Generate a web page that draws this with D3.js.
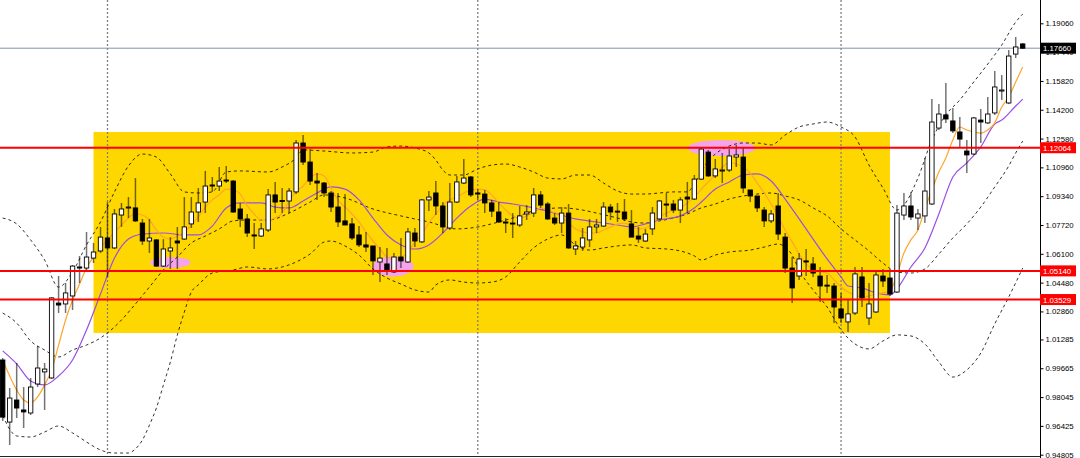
<!DOCTYPE html>
<html><head><meta charset="utf-8">
<script src="https://cdn.jsdelivr.net/npm/d3@7"></script>
<style>html,body{margin:0;padding:0;background:#fff;overflow:hidden}svg{display:block}</style>
</head><body>
<svg id="chart" width="1080" height="458"></svg>
<script>
// ---------- data ----------
const opens=[1.0013,0.9664,0.9788,0.9732,0.9715,0.9878,0.9946,0.9912,1.0333,1.0328,1.0373,1.0536,1.0530,1.0586,1.0626,1.0699,1.0643,1.0828,1.0868,1.0868,1.0783,1.0682,1.0688,1.0541,1.0626,1.0682,1.0693,1.0778,1.0845,1.0901,1.0997,1.0991,1.1025,1.1019,1.0862,1.0806,1.0716,1.0710,1.0744,1.0941,1.0910,1.0907,1.0958,1.1233,1.1126,1.1019,1.1008,1.0952,1.0873,1.0795,1.0778,1.0716,1.0660,1.0654,1.0564,1.0553,1.0508,1.0592,1.0564,1.0727,1.0677,1.0913,1.0952,1.0879,1.0755,1.0901,1.1008,1.1042,1.0952,1.0946,1.0896,1.0845,1.0789,1.0783,1.0772,1.0834,1.0839,1.0941,1.0890,1.0811,1.0783,1.0839,1.0637,1.0648,1.0688,1.0761,1.0766,1.0873,1.0850,1.0845,1.0778,1.0710,1.0682,1.0750,1.0806,1.0890,1.0890,1.0856,1.0929,1.0918,1.1030,1.1182,1.1048,1.1076,1.1081,1.1154,1.1154,1.0969,1.0935,1.0856,1.0795,1.0879,1.0704,1.0530,1.0485,1.0570,1.0553,1.0485,1.0434,1.0429,1.0300,1.0227,1.0277,1.0480,1.0249,1.0283,1.0485,1.0474,1.0395,1.0828,1.0879,1.0811,1.0823,1.0890,1.1317,1.1391,1.1357,1.1295,1.1188,1.1171,1.1362,1.1346,1.1402,1.1525,1.1458,1.1733,1.1790];
const highs=[1.0024,0.9855,0.9996,0.9861,0.9912,1.0092,0.9996,1.0367,1.0485,1.0446,1.0547,1.0598,1.0733,1.0671,1.0761,1.0901,1.0862,1.0896,1.0929,1.1036,1.0806,1.0806,1.0693,1.0693,1.0704,1.0761,1.0929,1.0929,1.0980,1.1076,1.1042,1.1098,1.1104,1.1025,1.0896,1.0834,1.0783,1.0783,1.0974,1.1014,1.0980,1.0980,1.1250,1.1278,1.1199,1.1064,1.1014,1.0963,1.0952,1.0946,1.0811,1.0766,1.0733,1.0654,1.0648,1.0643,1.0615,1.0699,1.0755,1.0755,1.0918,1.0963,1.1019,1.0901,1.1008,1.1048,1.1143,1.1048,1.0974,1.0969,1.0913,1.0901,1.0811,1.0839,1.0879,1.0884,1.0980,1.0963,1.0901,1.0839,1.0873,1.0890,1.0682,1.0755,1.0806,1.0806,1.0901,1.0890,1.0896,1.0918,1.0856,1.0761,1.0750,1.0873,1.0913,1.0952,1.0913,1.0929,1.1014,1.1053,1.1205,1.1194,1.1143,1.1177,1.1199,1.1222,1.1211,1.0969,1.0935,1.0873,1.0856,1.0952,1.0727,1.0592,1.0615,1.0637,1.0592,1.0536,1.0491,1.0446,1.0390,1.0350,1.0536,1.0536,1.0446,1.0519,1.0525,1.0525,1.0884,1.0952,1.0958,1.0862,1.1149,1.1480,1.1452,1.1570,1.1430,1.1379,1.1250,1.1379,1.1424,1.1492,1.1638,1.1615,1.1756,1.1829,1.1795];
const lows=[0.9670,0.9535,0.9687,0.9631,0.9704,0.9861,0.9732,0.9906,1.0277,1.0277,1.0294,1.0446,1.0508,1.0558,1.0615,1.0480,1.0637,1.0761,1.0811,1.0789,1.0660,1.0615,1.0536,1.0536,1.0525,1.0525,1.0688,1.0755,1.0789,1.0839,1.0958,1.0963,1.1008,1.0839,1.0761,1.0704,1.0637,1.0704,1.0733,1.0839,1.0839,1.0839,1.0946,1.1109,1.0997,1.0913,1.0929,1.0845,1.0761,1.0772,1.0688,1.0648,1.0620,1.0491,1.0452,1.0491,1.0502,1.0530,1.0558,1.0648,1.0671,1.0850,1.0828,1.0727,1.0744,1.0896,1.1003,1.0929,1.0913,1.0839,1.0817,1.0783,1.0727,1.0699,1.0761,1.0800,1.0817,1.0868,1.0800,1.0772,1.0727,1.0637,1.0603,1.0626,1.0648,1.0727,1.0761,1.0800,1.0789,1.0795,1.0704,1.0671,1.0677,1.0716,1.0800,1.0817,1.0839,1.0783,1.0839,1.0913,1.1025,1.1042,1.1036,1.1008,1.1070,1.1098,1.0952,1.0901,1.0845,1.0761,1.0783,1.0688,1.0502,1.0333,1.0463,1.0485,1.0480,1.0339,1.0390,1.0221,1.0221,1.0170,1.0266,1.0311,1.0210,1.0277,1.0423,1.0373,1.0390,1.0800,1.0800,1.0744,1.0783,1.0884,1.1306,1.1346,1.1289,1.1205,1.1064,1.1166,1.1233,1.1340,1.1391,1.1475,1.1452,1.1711,1.1762];
const closes=[0.9692,0.9799,0.9743,0.9721,0.9861,0.9968,0.9962,1.0362,1.0322,1.0390,1.0541,1.0530,1.0592,1.0620,1.0704,1.0643,1.0834,1.0862,1.0873,1.0795,1.0682,1.0699,1.0541,1.0637,1.0643,1.0671,1.0761,1.0845,1.0896,1.0991,1.0991,1.1019,1.1019,1.0845,1.0806,1.0727,1.0710,1.0750,1.0941,1.0901,1.0904,1.0963,1.1233,1.1126,1.1019,1.1008,1.0952,1.0873,1.0789,1.0772,1.0699,1.0660,1.0648,1.0570,1.0586,1.0519,1.0592,1.0570,1.0733,1.0682,1.0913,1.0929,1.0879,1.0761,1.0901,1.1014,1.1036,1.0941,1.0946,1.0896,1.0850,1.0789,1.0783,1.0778,1.0823,1.0845,1.0941,1.0884,1.0806,1.0783,1.0839,1.0643,1.0654,1.0699,1.0761,1.0772,1.0873,1.0845,1.0845,1.0806,1.0704,1.0693,1.0721,1.0839,1.0907,1.0884,1.0856,1.0913,1.0918,1.1030,1.1199,1.1048,1.1087,1.1081,1.1160,1.1166,1.0980,1.0935,1.0868,1.0795,1.0834,1.0721,1.0530,1.0418,1.0581,1.0564,1.0502,1.0429,1.0429,1.0311,1.0249,1.0272,1.0497,1.0362,1.0328,1.0491,1.0457,1.0384,1.0839,1.0879,1.0817,1.0834,1.0963,1.1351,1.1396,1.1368,1.1301,1.1255,1.1166,1.1374,1.1351,1.1396,1.1548,1.1531,1.1722,1.1773,1.1766];

// Bollinger bands: [bar index, price]
const upperBand=[[0,1.0811],[2,1.0778],[4,1.0688],[6,1.0575],[8,1.0423],[10,1.0508],[12,1.0660],[14,1.0789],[16,1.0958],[18,1.1104],[20,1.1171],[22,1.1154],[24,1.1059],[26,1.0958],[28,1.0952],[30,1.0958],[32,1.1070],[34,1.1076],[38,1.1070],[40,1.1098],[42,1.1149],[43,1.1194],[46,1.1188],[50,1.1177],[53,1.1182],[55,1.1211],[57,1.1216],[59,1.1205],[61,1.1177],[62,1.1137],[63,1.1081],[64,1.1053],[66,1.1053],[68,1.1087],[70,1.1109],[72,1.1115],[74,1.1098],[76,1.1070],[78,1.1036],[80,1.1031],[82,1.1053],[84,1.1053],[86,1.1008],[88,1.0963],[90,1.0946],[92,1.0946],[94,1.0952],[96,1.0958],[98,1.0958],[99,1.1003],[100,1.1070],[101,1.1132],[102,1.1171],[104,1.1216],[106,1.1233],[108,1.1233],[110,1.1222],[112,1.1278],[114,1.1323],[116,1.1340],[118,1.1351],[120,1.1323],[122,1.1267],[124,1.1109],[126,1.0980],[128,1.0856],[129,1.0884],[131,1.1036],[133,1.1250],[135,1.1391],[137,1.1475],[139,1.1576],[141,1.1677],[143,1.1784],[145,1.1913],[146,1.1958]];
const middleBand=[[0,1.0277],[2,1.0221],[4,1.0120],[6,1.0069],[8,1.0030],[10,1.0069],[12,1.0097],[14,1.0137],[15,1.0165],[17,1.0238],[19,1.0328],[21,1.0423],[23,1.0519],[25,1.0592],[27,1.0671],[29,1.0710],[31,1.0750],[33,1.0795],[35,1.0800],[38,1.0800],[41,1.0839],[44,1.0901],[46,1.0941],[49,1.0924],[53,1.0862],[57,1.0823],[61,1.0789],[65,1.0750],[68,1.0761],[71,1.0789],[73,1.0811],[76,1.0851],[80,1.0868],[83,1.0856],[85,1.0839],[88,1.0811],[90,1.0789],[92,1.0783],[94,1.0795],[96,1.0811],[98,1.0834],[100,1.0868],[102,1.0890],[104,1.0918],[106,1.0935],[108,1.0946],[110,1.0952],[112,1.0935],[114,1.0913],[116,1.0868],[118,1.0823],[120,1.0750],[122,1.0688],[124,1.0626],[126,1.0558],[128,1.0508],[130,1.0502],[132,1.0525],[134,1.0609],[136,1.0699],[138,1.0778],[140,1.0873],[142,1.0986],[144,1.1104],[145,1.1177],[146,1.1244]];
const lowerBand=[[0,0.9700],[2,0.9586],[4,0.9580],[6,0.9608],[8,0.9642],[10,0.9603],[12,0.9552],[14,0.9507],[16,0.9490],[18,0.9490],[19,0.9513],[20,0.9563],[21,0.9647],[22,0.9743],[23,0.9872],[24,1.0002],[25,1.0154],[26,1.0283],[27,1.0395],[28,1.0435],[30,1.0502],[33,1.0519],[35,1.0536],[38,1.0525],[40,1.0536],[42,1.0564],[44,1.0609],[46,1.0676],[47,1.0682],[49,1.0654],[51,1.0603],[53,1.0525],[55,1.0474],[57,1.0440],[59,1.0407],[61,1.0395],[62,1.0435],[64,1.0463],[66,1.0451],[68,1.0446],[70,1.0451],[72,1.0480],[74,1.0564],[76,1.0643],[78,1.0693],[80,1.0716],[82,1.0660],[84,1.0631],[86,1.0643],[88,1.0654],[90,1.0660],[92,1.0643],[95,1.0637],[97,1.0626],[99,1.0598],[100,1.0575],[102,1.0603],[104,1.0620],[107,1.0631],[109,1.0648],[111,1.0665],[112,1.0648],[113,1.0603],[114,1.0519],[116,1.0407],[118,1.0311],[120,1.0182],[122,1.0103],[124,1.0075],[126,1.0120],[128,1.0154],[130,1.0148],[132,1.0103],[134,1.0002],[136,0.9917],[138,0.9957],[140,1.0052],[142,1.0216],[144,1.0367],[146,1.0530]];

// Moving averages: [bar index, price]
const fastMA=[[0,1.0013],[1,0.9923],[2,0.9844],[3,0.9788],[4,0.9771],[5,0.9805],[6,0.9873],[7,0.9957],[8,1.0097],[9,1.0238],[10,1.0350],[11,1.0440],[12,1.0530],[13,1.0592],[14,1.0643],[15,1.0688],[17,1.0772],[19,1.0834],[20,1.0828],[21,1.0800],[22,1.0744],[23,1.0704],[24,1.0693],[25,1.0710],[26,1.0733],[27,1.0772],[28,1.0817],[29,1.0873],[30,1.0913],[31,1.0941],[32,1.0974],[33,1.0969],[34,1.0946],[35,1.0879],[36,1.0834],[37,1.0800],[38,1.0800],[39,1.0811],[40,1.0839],[41,1.0907],[42,1.0958],[43,1.0991],[44,1.1036],[45,1.1059],[46,1.1048],[47,1.0980],[48,1.0913],[49,1.0873],[50,1.0834],[51,1.0789],[52,1.0733],[53,1.0682],[54,1.0637],[55,1.0592],[56,1.0581],[57,1.0592],[58,1.0615],[59,1.0677],[60,1.0721],[61,1.0783],[62,1.0834],[63,1.0884],[64,1.0913],[65,1.0929],[66,1.0952],[67,1.0969],[68,1.0974],[69,1.0969],[70,1.0941],[71,1.0896],[72,1.0856],[73,1.0823],[74,1.0811],[75,1.0823],[76,1.0845],[77,1.0868],[78,1.0856],[79,1.0839],[80,1.0817],[81,1.0783],[82,1.0750],[83,1.0733],[84,1.0727],[85,1.0727],[86,1.0744],[87,1.0761],[88,1.0778],[89,1.0783],[90,1.0766],[91,1.0750],[92,1.0755],[93,1.0783],[94,1.0817],[95,1.0839],[96,1.0856],[97,1.0868],[98,1.0896],[99,1.0929],[100,1.0974],[101,1.1014],[102,1.1053],[103,1.1098],[104,1.1121],[105,1.1115],[106,1.1098],[107,1.1064],[108,1.1008],[109,1.0952],[110,1.0890],[111,1.0823],[112,1.0744],[113,1.0677],[114,1.0609],[115,1.0553],[116,1.0519],[117,1.0508],[118,1.0502],[119,1.0463],[120,1.0423],[121,1.0395],[122,1.0379],[123,1.0367],[124,1.0373],[125,1.0384],[126,1.0390],[127,1.0401],[128,1.0491],[129,1.0615],[130,1.0688],[131,1.0744],[132,1.0862],[133,1.0969],[134,1.1070],[135,1.1149],[136,1.1250],[137,1.1323],[138,1.1306],[139,1.1295],[140,1.1289],[141,1.1306],[142,1.1346],[143,1.1435],[144,1.1492],[145,1.1576],[146,1.1660]];
const slowMA=[[0,1.0064],[2,0.9991],[4,0.9895],[6,0.9873],[8,0.9923],[10,1.0013],[12,1.0182],[14,1.0384],[16,1.0586],[18,1.0693],[20,1.0721],[23,1.0727],[26,1.0716],[28,1.0716],[30,1.0766],[32,1.0868],[34,1.0896],[37,1.0896],[39,1.0873],[41,1.0868],[43,1.0907],[45,1.0952],[47,1.0986],[49,1.0974],[51,1.0913],[53,1.0811],[55,1.0716],[57,1.0660],[59,1.0637],[61,1.0660],[63,1.0727],[65,1.0811],[67,1.0879],[69,1.0918],[71,1.0901],[73,1.0890],[76,1.0868],[79,1.0839],[82,1.0806],[85,1.0789],[88,1.0772],[90,1.0761],[92,1.0778],[94,1.0800],[97,1.0823],[99,1.0868],[100,1.0901],[102,1.0974],[104,1.1014],[106,1.1053],[108,1.1059],[110,1.1019],[112,1.0918],[114,1.0806],[116,1.0693],[118,1.0581],[120,1.0480],[121,1.0429],[123,1.0418],[125,1.0390],[127,1.0379],[128,1.0412],[130,1.0536],[132,1.0643],[134,1.0834],[136,1.1042],[138,1.1121],[140,1.1211],[142,1.1340],[143,1.1362],[145,1.1441],[146,1.1480]];

const yTickValues=[1.19060,1.17440,1.15820,1.14200,1.12580,1.10960,1.09340,1.07720,1.06100,1.04480,1.02860,1.01285,0.99665,0.98045,0.96425,0.94805];
const levelPrices=[1.12064,1.05140,1.03529];
const lastPrice=1.17660;
const periodSeparators=[15,68,120];
const zoneBars=[13,127];
const zonePrices=[1.1295,1.0165];
// highlight ellipses: centre bar, centre price, half-width in bars, half-height in price
const ellipseBars=[24,55.9,102.9];
const ellipsePrices=[1.0561,1.0539,1.1205];
const ellipseHalfBars=[2.9,2.9,4.9];
const ellipseHalfPrices=[0.0031,0.0056,0.0045];

// ---------- drawing ----------
const W=1080,H=458,plotRight=1040,plotBottom=456.5;
const svg=d3.select('#chart');
const x=d3.scaleLinear().domain([0,146]).range([2.7,1022.7]);
const y=d3.scaleLinear().domain([0.94805,1.19060]).range([454.7,23.3]);

svg.append('defs').append('clipPath').attr('id','plot')
  .append('rect').attr('x',0).attr('y',0).attr('width',plotRight).attr('height',plotBottom);
const g=svg.append('g').attr('clip-path','url(#plot)');

// zone rectangle
g.append('rect')
  .attr('x',x(zoneBars[0])).attr('y',y(zonePrices[0]))
  .attr('width',x(zoneBars[1])-x(zoneBars[0]))
  .attr('height',y(zonePrices[1])-y(zonePrices[0]))
  .attr('fill','#FFD700');

// ellipses
g.selectAll('ellipse.mark').data(ellipseBars).join('ellipse')
  .attr('cx',d=>x(d)).attr('cy',(d,i)=>y(ellipsePrices[i]))
  .attr('rx',(d,i)=>x(d+ellipseHalfBars[i])-x(d))
  .attr('ry',(d,i)=>y(ellipsePrices[i]-ellipseHalfPrices[i])-y(ellipsePrices[i]))
  .attr('fill','#F5A3EA');

// period separators
g.selectAll('line.sep').data(periodSeparators).join('line')
  .attr('x1',d=>x(d)).attr('x2',d=>x(d)).attr('y1',0).attr('y2',plotBottom)
  .attr('stroke','#808080').attr('stroke-width',1.3).attr('stroke-dasharray','2,2');

// last price line
g.append('line').attr('x1',0).attr('x2',plotRight)
  .attr('y1',y(lastPrice)).attr('y2',y(lastPrice))
  .attr('stroke','#8292AA').attr('stroke-width',1);

// bands
const line=d3.line().x(d=>x(d[0])).y(d=>y(d[1])).curve(d3.curveMonotoneX);
[upperBand,middleBand,lowerBand].forEach(b=>{
  g.append('path').attr('d',line(b)).attr('fill','none')
   .attr('stroke','#000').attr('stroke-opacity',0.8).attr('stroke-width',1)
   .attr('stroke-dasharray','3,3');
});
g.append('path').attr('d',line(slowMA)).attr('fill','none')
  .attr('stroke','#9A4FE3').attr('stroke-width',1.2);
g.append('path').attr('d',line(fastMA)).attr('fill','none')
  .attr('stroke','#FFA52C').attr('stroke-width',1.2);

// candles
const bars=opens.map((o,i)=>({i,o,h:highs[i],l:lows[i],c:closes[i]}));
const bw=4.4;
const cg=g.append('g');
cg.selectAll('line.wick').data(bars).join('line')
  .attr('x1',d=>x(d.i)).attr('x2',d=>x(d.i))
  .attr('y1',d=>y(d.h)).attr('y2',d=>y(d.l))
  .attr('stroke','#000').attr('stroke-opacity',0.55).attr('stroke-width',1.5);
cg.selectAll('rect.body').data(bars).join('rect')
  .attr('x',d=>x(d.i)-bw/2)
  .attr('y',d=>y(Math.max(d.o,d.c)))
  .attr('width',bw)
  .attr('height',d=>Math.max(1,Math.abs(y(d.o)-y(d.c))))
  .attr('fill',d=>d.c>=d.o?'#fff':'#000')
  .attr('stroke','#000').attr('stroke-width',0.9);

// horizontal levels
g.selectAll('line.level').data(levelPrices).join('line')
  .attr('x1',0).attr('x2',plotRight).attr('y1',d=>y(d)).attr('y2',d=>y(d))
  .attr('stroke','#FF0000').attr('stroke-width',2);

// frame
svg.append('line').attr('x1',plotRight+0.5).attr('x2',plotRight+0.5).attr('y1',0).attr('y2',H)
  .attr('stroke','#000').attr('stroke-width',1);
svg.append('line').attr('x1',0).attr('x2',plotRight).attr('y1',plotBottom).attr('y2',plotBottom)
  .attr('stroke','#222').attr('stroke-width',1.2);

// right axis
const axis=d3.axisRight(y).tickValues(yTickValues).tickSize(3).tickPadding(2)
  .tickFormat(d3.format('.5f'));
const ag=svg.append('g').attr('transform',`translate(${plotRight+0.5},0)`).call(axis);
ag.select('.domain').remove();
ag.selectAll('text').attr('font-family','"Liberation Sans",Arial,sans-serif')
  .attr('font-size','7.8px').attr('fill','#000');
ag.selectAll('line').attr('stroke','#000');

// price labels
function tag(price,bg){
  const t=svg.append('g').attr('transform',`translate(${plotRight},${y(price)})`);
  t.append('rect').attr('x',0).attr('y',-5.5).attr('width',36).attr('height',11).attr('fill',bg);
  t.append('text').attr('x',3).attr('y',3).text(d3.format('.5f')(price))
    .attr('font-family','"Liberation Sans",Arial,sans-serif').attr('font-size','7.8px').attr('fill','#fff');
}
levelPrices.forEach(p=>tag(p,'#FF0000'));
tag(lastPrice,'#000');
</script>
</body></html>
